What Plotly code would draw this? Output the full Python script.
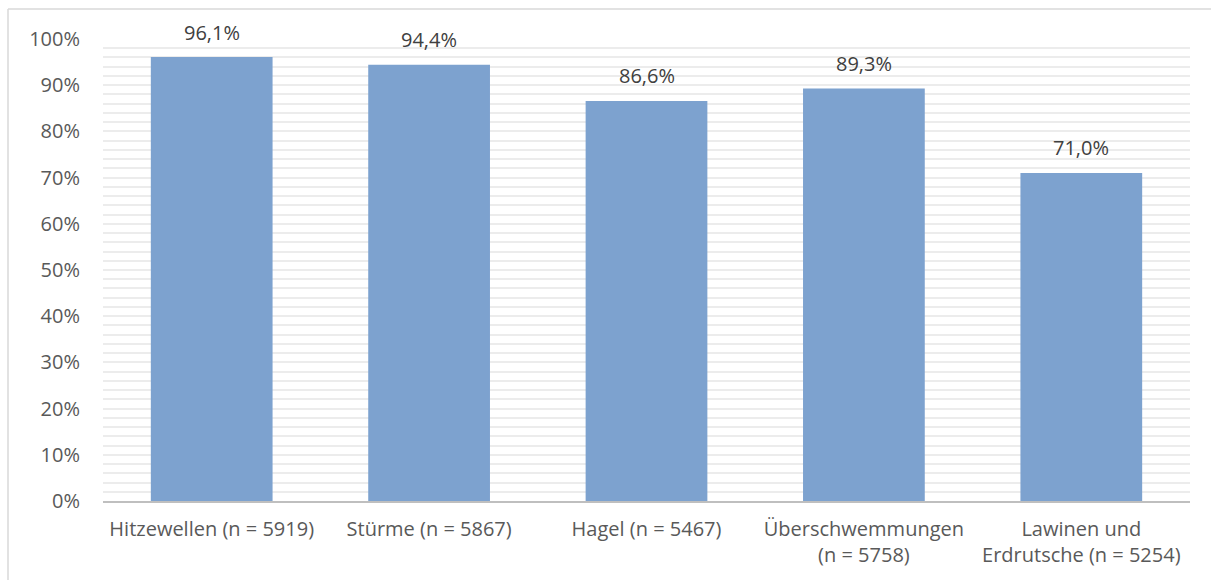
import plotly.graph_objects as go

categories = [
    "Hitzewellen (n = 5919)",
    "Stürme (n = 5867)",
    "Hagel (n = 5467)",
    "Überschwemmungen<br>(n = 5758)",
    "Lawinen und<br>Erdrutsche (n = 5254)",
]
values = [96.1, 94.4, 86.6, 89.3, 71.0]
y_ticks = list(range(0, 101, 10))
y_labels = [f"{v}%" for v in y_ticks]

fig = go.Figure()
fig.add_trace(
    go.Bar(
        x=categories,
        y=values,
        marker=dict(color="#7da2cf", line=dict(width=0)),
        cliponaxis=False,
    )
)

# value labels above the bars (decimal comma)
for cat, val in zip(categories, values):
    fig.add_annotation(
        x=cat, y=val,
        text=f"{val:.1f}%".replace(".", ","),
        showarrow=False,
        yanchor="middle",
        yshift=25,
        font=dict(size=20, color="#404040"),
    )

fig.update_layout(
    width=1211,
    height=580,
    margin=dict(l=103, r=21, t=39, b=79),
    plot_bgcolor="white",
    paper_bgcolor="white",
    bargap=0.44,
    showlegend=False,
    font=dict(family="Open Sans", color="#595959", size=20),
)
fig.update_xaxes(
    showline=True,
    linecolor="#bfbfbf",
    linewidth=2,
    tickfont=dict(size=20),
    ticks="",
    ticklabelstandoff=9,
)
fig.update_yaxes(
    range=[0, 100],
    tickvals=y_ticks,
    ticktext=y_labels,
    tickfont=dict(size=20),
    ticklabelstandoff=22,
    showgrid=True,
    gridcolor="#ececec",
    gridwidth=1.5,
    minor=dict(dtick=2, showgrid=True, gridcolor="#ececec", gridwidth=1.5),
    zeroline=False,
    ticks="",
)

# thin outer frame of the chart area (left and top edges visible)
fig.add_shape(type="line", xref="paper", yref="paper",
              x0=-0.0874, x1=-0.0874, y0=1.065, y1=-0.3,
              line=dict(color="#d9d9d9", width=1.5))
fig.add_shape(type="line", xref="paper", yref="paper",
              x0=-0.0874, x1=1.1, y0=1.065, y1=1.065,
              line=dict(color="#d9d9d9", width=1.5))

fig.write_html(
    "out.html",
    config={"displayModeBar": False},
    post_script="document.body.style.margin='0';",
)
